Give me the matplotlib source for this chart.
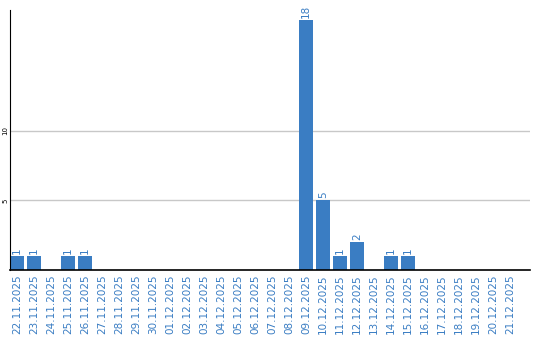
import numpy as np
import matplotlib
matplotlib.use('Agg')
import matplotlib.pyplot as plt

dates = ['22.11.2025', '23.11.2025', '24.11.2025', '25.11.2025', '26.11.2025',
         '27.11.2025', '28.11.2025', '29.11.2025', '30.11.2025', '01.12.2025',
         '02.12.2025', '03.12.2025', '04.12.2025', '05.12.2025', '06.12.2025',
         '07.12.2025', '08.12.2025', '09.12.2025', '10.12.2025', '11.12.2025',
         '12.12.2025', '13.12.2025', '14.12.2025', '15.12.2025', '16.12.2025',
         '17.12.2025', '18.12.2025', '19.12.2025', '20.12.2025', '21.12.2025']
counts = [1, 1, 0, 1, 1, 0, 0, 0, 0, 0,
          0, 0, 0, 0, 0, 0, 0, 18, 5, 1,
          2, 0, 1, 1, 0, 0, 0, 0, 0, 0]
yticks = [5, 10]

blue = '#3a7dc3'

fig = plt.figure(figsize=(5.4, 3.4), dpi=100)
ax = fig.add_axes([10 / 540, 70 / 340, 520 / 540, 260 / 340])

x = np.arange(len(dates))
ax.bar(x, counts, width=0.82, color=blue, zorder=2)

for xi, v in zip(x, counts):
    if v > 0:
        ax.text(xi, v + 0.15, str(v), rotation=90, ha='center', va='bottom',
                color=blue, fontsize=7.5)

ax.set_xlim(-0.41, 30.18)
ax.set_ylim(0, 18.7)
ax.set_xticks(x)
ax.set_xticklabels(dates, rotation=90, color=blue, fontsize=7.5)
ax.set_yticks(yticks)
ax.set_yticklabels([str(t) for t in yticks], rotation=90, fontsize=5, va='center')
ax.tick_params(axis='x', length=0, pad=3)
ax.tick_params(axis='y', length=0, pad=1)
ax.grid(axis='y', color='#c8c8c8', linewidth=1, zorder=0)

for s in ['top', 'right']:
    ax.spines[s].set_visible(False)
ax.spines['left'].set_color('black')
ax.spines['bottom'].set_color('black')
ax.spines['bottom'].set_linewidth(1.2)

fig.savefig('out.png', dpi=100)
